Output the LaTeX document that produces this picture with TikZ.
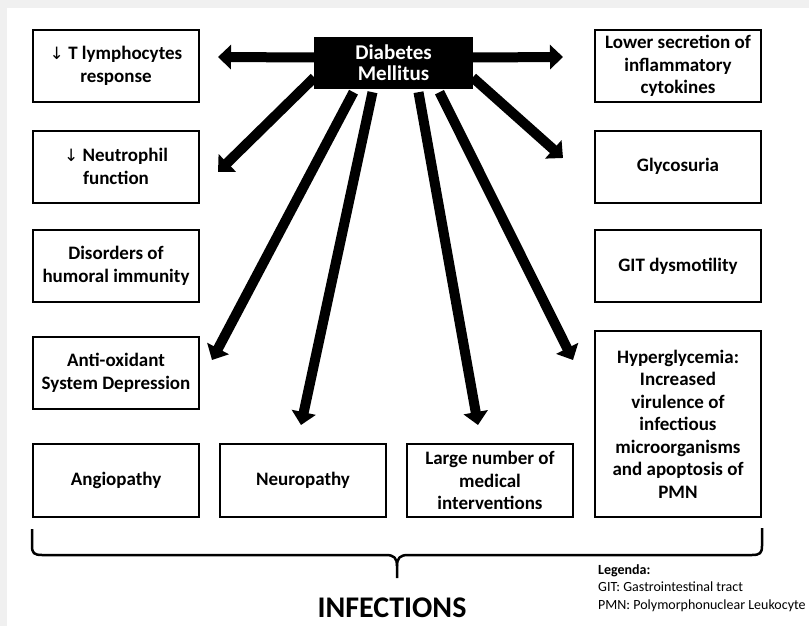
\documentclass[tikz,border=0pt]{standalone}
\usepackage{fontspec}
\setmainfont{Carlito}
\newfontfamily\arrowfont{DejaVu Sans}
\usetikzlibrary{arrows.meta}
\def\dn{{\arrowfont\mdseries\fontsize{17}{17}\selectfont ↓}}

\tikzset{
	cause/.style={draw, line width=2pt, minimum width=166pt, minimum height=72pt, align=center, inner sep=2pt, font=\bfseries\fontsize{19}{22.5}\selectfont},
	disease/.style={draw, fill=black, minimum width=158pt, minimum height=51pt, align=center, text=white, font=\bfseries\fontsize{21}{21}\selectfont},
	bigarrow/.style={line width=10pt, -{Triangle[length=13pt,width=24pt]}},
	brace/.style={line width=2.5pt, line join=round}
}

\begin{document}
\begin{tikzpicture}[x=1pt, y=-1pt]
			%%%%% START %%%%%
			\useasboundingbox (0,0) rectangle (809,626);
			\fill[black!6] (0,0) rectangle (809,626);
			\fill[white] (7,8) rectangle (809,626);
			
			\node[disease] (dm) at (393.5,62.5) {Diabetes\\Mellitus};
			
			% left column
			\node[cause] (tcell) at (116,66) {\dn\ T lymphocytes\\response};
			\node[cause] (neutro) at (116,166.5) {\dn\ Neutrophil\\function};
			\node[cause] (humoral) at (116,266) {Disorders of\\humoral immunity};
			\node[cause] (antiox) at (116,373) {Anti-oxidant\\System Depression};
			
			% bottom row
			\node[cause, minimum height=73pt] (angio) at (116,480.5) {Angiopathy};
			\node[cause, minimum height=73pt] (neuro) at (303,480.5) {Neuropathy};
			\node[cause, minimum height=73pt] (interv) at (490,480.5) {Large number of\\medical\\interventions};
			
			% right column
			\node[cause] (cyto) at (678,66) {Lower secretion of\\inflammatory\\cytokines};
			\node[cause] (glyco) at (678,166.5) {Glycosuria};
			\node[cause] (git) at (678,266) {GIT dysmotility};
			\node[cause, minimum height=186pt] (hyper) at (678,424) {Hyperglycemia:\\Increased\\virulence of\\infectious\\microorganisms\\and apoptosis of\\PMN};
			
			% arrow tips
			\coordinate (tcelltip) at (218,57);
			\coordinate (neutrotip) at (218,172);
			\coordinate (antioxtip) at (212,360);
			\coordinate (neurotip) at (301,425);
			\coordinate (intervtip) at (478,425);
			\coordinate (hypertip) at (573,360);
			\coordinate (glycotip) at (563,158);
			\coordinate (cytotip) at (563,57);
			
			\draw[bigarrow] ([yshift=5pt]dm.west) -- (tcelltip);
			\draw[bigarrow] ([yshift=-15pt]dm.west) -- (neutrotip);
			\draw[bigarrow] ([xshift=-40pt,yshift=-4pt]dm.south) -- (antioxtip);
			\draw[bigarrow] ([xshift=-21pt,yshift=-4pt]dm.south) -- (neurotip);
			\draw[bigarrow] ([xshift=25pt,yshift=-4pt]dm.south) -- (intervtip);
			\draw[bigarrow] ([xshift=46pt,yshift=-4pt]dm.south) -- (hypertip);
			\draw[bigarrow] ([yshift=-15pt]dm.east) -- (glycotip);
			\draw[bigarrow] ([yshift=5pt]dm.east) -- (cytotip);
			
			% brace
			\draw[brace] (32,529) -- (32,546) .. controls (32,553) and (34,555) .. (42,555) -- (386,555) .. controls (394,555) and (397,558) .. (397,566) -- (397,578);
			\draw[brace] (397,566) .. controls (397,558) and (400,555) .. (408,555) -- (752,555) .. controls (760,555) and (762,553) .. (762,546) -- (762,528);
			
			\node[font=\bfseries\fontsize{30}{30}\selectfont, inner sep=0pt] (infect) at (392,607.5) {INFECTIONS};
			
			\node[anchor=north west, inner sep=0pt, align=left, font=\fontsize{14}{17.5}\selectfont] (legend) at (598,564) {\textbf{Legenda:}\\GIT: Gastrointestinal tract\\PMN: Polymorphonuclear Leukocyte};
			
			%%%%% END %%%%%
		\end{tikzpicture}
\end{document}
